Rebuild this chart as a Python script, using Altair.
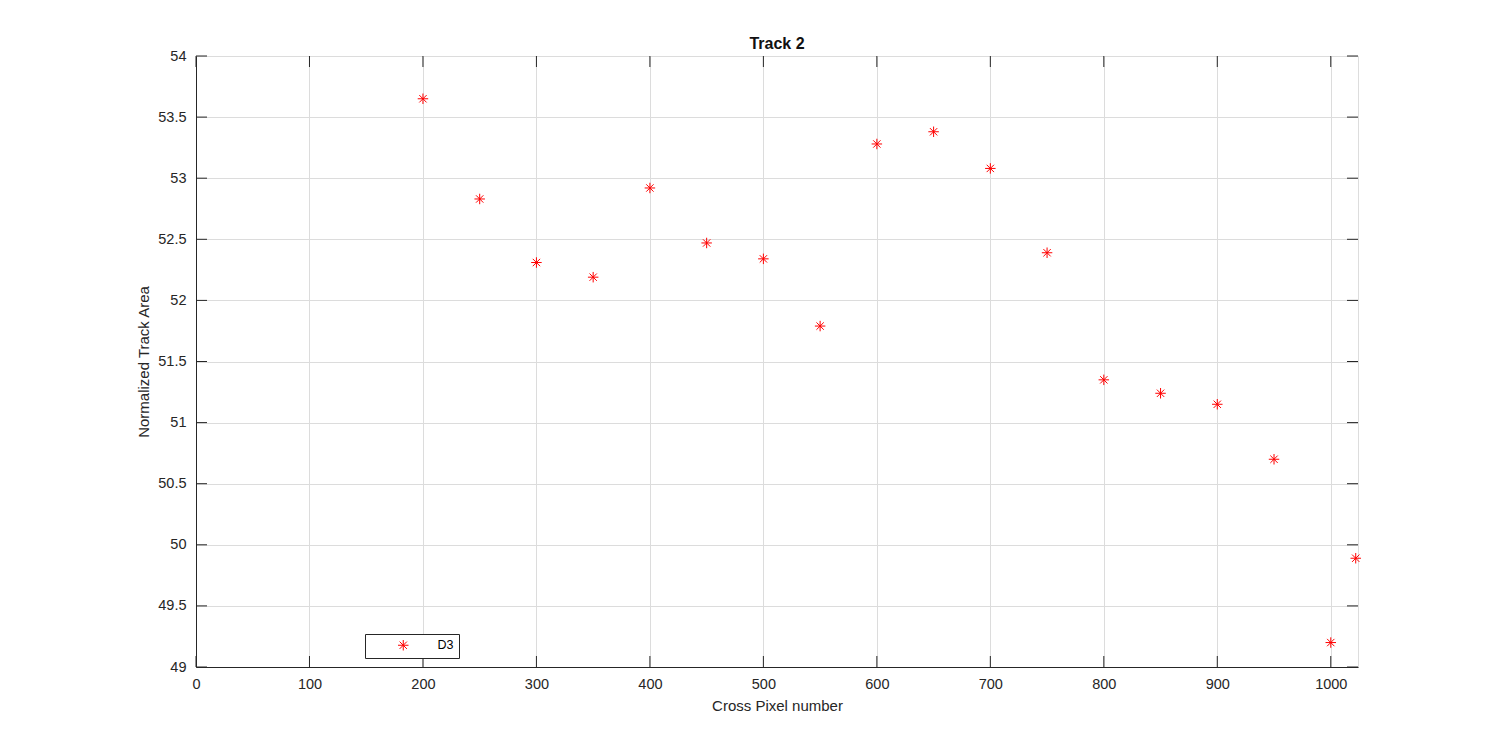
import altair as alt
import pandas as pd

# Data
cross_pixel = [200, 250, 300, 350, 400, 450, 500, 550, 600, 650, 700, 750, 800, 850, 900, 950, 1000, 1022]
track_area = [53.65, 52.83, 52.31, 52.19, 52.92, 52.47, 52.34, 51.79, 53.28, 53.38, 53.08, 52.39,
              51.35, 51.24, 51.15, 50.70, 49.20, 49.89]
series_name = ["D3"] * len(cross_pixel)

x_ticks = [0, 100, 200, 300, 400, 500, 600, 700, 800, 900, 1000]
y_ticks = [49, 49.5, 50, 50.5, 51, 51.5, 52, 52.5, 53, 53.5, 54]

W, H = 1162, 611
FONT = "Liberation Sans"
AX = "#262626"
LBL = 14.5
TTL = 15

df = pd.DataFrame({"x": cross_pixel, "y": track_area, "series": series_name})
xt = pd.DataFrame({"t": x_ticks})
yt = pd.DataFrame({"t": y_ticks})

xscale = alt.Scale(domain=[0, 1024], nice=False, zero=False)
yscale = alt.Scale(domain=[49, 54], nice=False, zero=False)

asterisk = "M-1,0L1,0M0,-1L0,1M-0.7,-0.7L0.7,0.7M-0.7,0.7L0.7,-0.7"

points = alt.Chart(df).mark_point(
    shape=asterisk, filled=False, size=110, strokeWidth=1, opacity=1
).encode(
    x=alt.X("x:Q", scale=xscale,
            axis=alt.Axis(values=x_ticks, title="Cross Pixel number", grid=True,
                          gridColor="#dcdcdc", gridWidth=1, tickSize=0,
                          labelPadding=10, titlePadding=8, domainColor=AX,
                          labelColor=AX, titleColor=AX, labelFont=FONT, titleFont=FONT,
                          labelFontSize=LBL, titleFontSize=TTL, titleFontWeight="normal",
                          labelFlush=False, format="d")),
    y=alt.Y("y:Q", scale=yscale,
            axis=alt.Axis(values=y_ticks, title="Normalized Track Area", grid=True,
                          gridColor="#dcdcdc", gridWidth=1, tickSize=0,
                          labelPadding=10, titlePadding=6, domainColor=AX,
                          labelColor=AX, titleColor=AX, labelFont=FONT, titleFont=FONT,
                          labelFontSize=LBL, titleFontSize=TTL, titleFontWeight="normal",
                          labelFlush=False, format="~g")),
    color=alt.Color("series:N", scale=alt.Scale(range=["#ff0000"]),
                    legend=alt.Legend(title=None, orient="none", legendX=169, legendY=578,
                                      strokeColor=AX, fillColor="white", padding=5,
                                      symbolOffset=27, labelOffset=28, symbolSize=110,
                                      symbolStrokeWidth=1, symbolType=asterisk,
                                      labelFont=FONT, labelFontSize=12.5, labelColor="black",
                                      cornerRadius=0, symbolFillColor="transparent")),
)

tick_x_bottom = alt.Chart(xt).mark_rule(color=AX, strokeWidth=1).encode(
    x=alt.X("t:Q", scale=xscale), y=alt.value(H), y2=alt.value(H - 11))
tick_x_top = alt.Chart(xt).mark_rule(color=AX, strokeWidth=1).encode(
    x=alt.X("t:Q", scale=xscale), y=alt.value(0), y2=alt.value(11))
tick_y_left = alt.Chart(yt).mark_rule(color=AX, strokeWidth=1).encode(
    y=alt.Y("t:Q", scale=yscale), x=alt.value(0), x2=alt.value(11))
tick_y_right = alt.Chart(yt).mark_rule(color=AX, strokeWidth=1).encode(
    y=alt.Y("t:Q", scale=yscale), x=alt.value(W), x2=alt.value(W - 11))

chart = alt.layer(tick_x_bottom, tick_x_top, tick_y_left, tick_y_right, points).properties(
    width=W, height=H,
    title=alt.TitleParams("Track 2", font=FONT, fontSize=16, fontWeight="bold", color="#111111",
                          offset=4, dy=8, anchor="middle"),
    autosize=alt.AutoSizeParams(type="none"),
    padding={"left": 188, "top": 48, "right": 120, "bottom": 65},
).configure_view(stroke=AX, strokeWidth=1).configure(background="white")

chart.save("out.html", embed_options={"renderer": "svg", "actions": False})
